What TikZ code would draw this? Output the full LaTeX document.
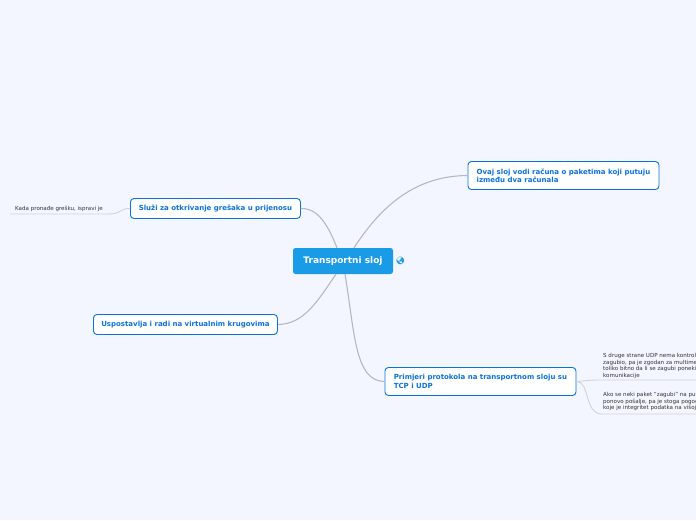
\documentclass[tikz,border=0pt]{standalone}
\usepackage{fontspec}
\setmainfont{DejaVu Sans}
\newfontfamily\emojifont{Noto Emoji}
\usepackage{tikz}
\usetikzlibrary{arrows.meta, positioning, calc}
\definecolor{pagebg}{HTML}{F3F6FE}
\definecolor{rootblue}{HTML}{1A9BE8}
\definecolor{topicblue}{HTML}{0B72DC}
\definecolor{linegray}{HTML}{B4B8C4}
\definecolor{sublinegray}{HTML}{D0D3DE}
\tikzset{
  rootbox/.style={rectangle, rounded corners=2.5pt, fill=rootblue, text=white, font=\bfseries\fontsize{9}{10}\selectfont, minimum width=100pt, minimum height=26pt, inner sep=0pt, align=center},
  topicbox/.style={rectangle, draw=topicblue, line width=0.9pt, rounded corners=3.5pt, fill=white, text=topicblue, font=\bfseries\fontsize{7}{8.4}\selectfont, inner sep=0pt, align=left, anchor=west},
  notetext/.style={text=black!80, font=\fontsize{5.55}{6.7}\selectfont, inner sep=0pt, align=left, anchor=north west},
  mainlink/.style={draw=linegray, line width=1.1pt},
  sublink/.style={draw=sublinegray, line width=0.9pt}
}

\begin{document}
\begin{tikzpicture}[x=1pt, y=-1pt]
\useasboundingbox[fill=pagebg] (0,0) rectangle (696,520);

% --- Central topic ---
\node[rootbox] (transport) at (343,261) {Transportni sloj};
\node[text=rootblue, inner sep=0pt, font=\emojifont\fontsize{7.5}{8}\selectfont] (globe) at (400.5,261) {\symbol{"1F30F}};

% --- Main topics ---
\node[topicbox, minimum width=191pt, minimum height=28pt] (racuna) at (467.5,175.5) {Ovaj sloj vodi računa o paketima koji putuju\\između dva računala};
\node[topicbox, minimum width=170pt, minimum height=20pt] (greske) at (130,208.5) {Služi za otkrivanje grešaka u prijenosu};
\node[topicbox, minimum width=184pt, minimum height=20pt] (krugovi) at (93,324.5) {Uspostavlja i radi na virtualnim krugovima};
\node[topicbox, minimum width=191pt, minimum height=28pt] (primjeri) at (384.5,381.5) {Primjeri protokola na transportnom sloju su\\TCP i UDP};

% --- Notes ---
\node[notetext] (ispravi) at (15,206) {Kada pronađe grešku, ispravi je};
\node[notetext] (udp) at (603,353) {S druge strane UDP nema kontrol\\zagubio, pa je zgodan za multime\\toliko bitno da li se zagubi poneki\\komunikacije};
\node[notetext] (paket) at (603,392) {Ako se neki paket "zagubi" na put\\ponovo pošalje, pa je stoga pogoc\\koje je integritet podatka na višoj};

\coordinate (ispraviend) at (10,214);
\coordinate (udpend) at (696,380);
\coordinate (paketend) at (696,414);

% --- Links ---
\draw[mainlink] (transport.north) ++(11,0) .. controls (385,200) and (420,176) .. (racuna.west);
\draw[mainlink] (transport.north) ++(-6,0) .. controls (328,225) and (318,208) .. (greske.east);
\draw[mainlink] (transport.south) ++(-7,0) .. controls (318,300) and (305,324) .. (krugovi.east);
\draw[mainlink] (transport.south) ++(2,0) .. controls (355,335) and (355,381) .. (primjeri.west);

\draw[sublink] (greske.west) .. controls (120,208) and (122,214) .. (108,214) -- (ispraviend);
\draw[sublink] (primjeri.east) .. controls (586,381) and (586,380) .. (600,380) -- (udpend);
\draw[sublink] (primjeri.east) .. controls (590,381) and (584,414) .. (602,414) -- (paketend);

\end{tikzpicture}
\end{document}
